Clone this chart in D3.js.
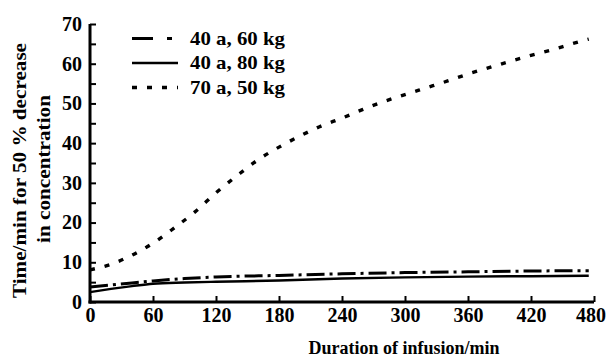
<!DOCTYPE html>
<html><head><meta charset="utf-8">
<script src="https://cdn.jsdelivr.net/npm/d3@7"></script>
<style>
body{margin:0;background:#fff;}
text{font-family:"Liberation Serif","Times New Roman",serif;font-weight:bold;fill:#000;}
</style></head>
<body><svg id="c" width="606" height="358"></svg>
<script>
const xTicks = [0,60,120,180,240,300,360,420,480];
const yTicks = [0,10,20,30,40,50,60,70];
const seriesNames = ["40 a, 60 kg","40 a, 80 kg","70 a, 50 kg"];
const t60 = [0,20,40,60,90,120,180,240,300,360,420,475];
const v60 = [3.8,4.3,4.8,5.3,5.9,6.3,6.7,7.1,7.4,7.6,7.8,7.9];
const t80 = [0,20,40,60,90,120,180,240,300,360,420,475];
const v80 = [2.5,3.3,4.0,4.6,4.9,5.1,5.4,5.9,6.2,6.4,6.5,6.6];
const t50 = [0,20,40,60,80,100,120,140,160,180,200,220,240,260,280,300,320,340,360,380,400,420,440,460,475];
const v50 = [8.1,9.5,11.8,14.8,18.6,22.7,27.5,31.8,35.8,39.0,41.8,44.3,46.3,48.5,50.5,52.2,53.9,55.6,57.4,59.0,60.6,62.1,63.5,65.1,66.2];

const svg = d3.select("#c");
const x = d3.scaleLinear().domain([0,480]).range([90,594]);
const y = d3.scaleLinear().domain([0,70]).range([302,24]);

const styles = [
  {dash:"18,5,3,5", w:3, legendDash:"21,14,5,20"},
  {dash:null, w:2.4, legendDash:null},
  {dash:"5,10", w:3.4, legendDash:"5,10"}
];
const data = [d3.zip(t60,v60), d3.zip(t80,v80), d3.zip(t50,v50)];
const line = d3.line().x(d=>x(d[0])).y(d=>y(d[1])).curve(d3.curveMonotoneX);
data.forEach((d,i)=>{
  svg.append("path").attr("d",line(d)).attr("fill","none").attr("stroke","#000")
    .attr("stroke-width",styles[i].w).attr("stroke-dasharray",styles[i].dash);
});

// axes
const xAxis = d3.axisBottom(x).tickValues(xTicks).tickSize(-6).tickPadding(16).tickSizeOuter(0);
const gx = svg.append("g").attr("transform","translate(0,302)").call(xAxis);
gx.select(".domain").attr("stroke-width",3).attr("d","M88.5,0H594");
gx.selectAll(".tick line").attr("stroke-width",2);
gx.selectAll("text").attr("font-size","20px").attr("dy","0.2em")
  .attr("dx", d => d===480 ? -3.5 : 0);

const yAxis = d3.axisLeft(y).tickValues(d3.range(0,71,5)).tickSize(-6).tickPadding(8).tickSizeOuter(0)
  .tickFormat(d=> yTicks.includes(d) ? d : "");
const gy = svg.append("g").attr("transform","translate(90,0)").call(yAxis);
gy.select(".domain").attr("stroke-width",3).attr("d","M0,303.5V24");
gy.selectAll(".tick line").attr("stroke-width",2);
gy.selectAll("text").attr("font-size","20px");

// titles
svg.append("text").attr("x",404).attr("y",354).attr("text-anchor","middle").attr("font-size","18px").text("Duration of infusion/min");
svg.append("text").attr("transform","translate(26,170.5) rotate(-90)").attr("text-anchor","middle").attr("font-size","18px")
  .attr("textLength",255).attr("lengthAdjust","spacingAndGlyphs").text("Time/min for 50 % decrease");
svg.append("text").attr("transform","translate(50,169) rotate(-90)").attr("text-anchor","middle").attr("font-size","18px")
  .attr("textLength",148).attr("lengthAdjust","spacingAndGlyphs").text("in concentration");

// legend
const lg = svg.append("g");
seriesNames.forEach((n,i)=>{
  const yy = 38.5 + i*24.5;
  lg.append("line").attr("x1",132).attr("x2",178).attr("y1",yy).attr("y2",yy)
    .attr("stroke","#000").attr("stroke-width",styles[i].w).attr("stroke-dasharray",styles[i].legendDash);
  lg.append("text").attr("x",190).attr("y",yy+6).attr("font-size","19px")
    .attr("textLength",95).attr("lengthAdjust","spacingAndGlyphs").text(n);
});
</script></body></html>
